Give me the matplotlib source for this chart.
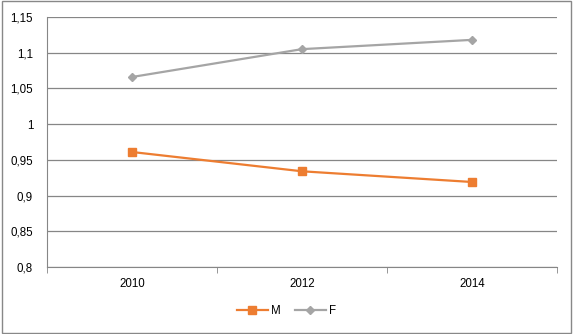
# line chart, M vs F
import numpy as np
import matplotlib.pyplot as plt
from matplotlib.ticker import FuncFormatter

years = ["2010", "2012", "2014"]
m_vals = [0.961, 0.934, 0.919]
f_vals = [1.066, 1.105, 1.118]
yticks = [0.8, 0.85, 0.9, 0.95, 1.0, 1.05, 1.1, 1.15]

plt.rcParams['font.family'] = ['Liberation Sans', 'DejaVu Sans']

fig = plt.figure(figsize=[5.73, 3.34], dpi=100)
ax = fig.add_axes([47/573, 1-267/334, 510/573, 250/334])

x = np.arange(len(years))
ax.plot(x, m_vals, color='#ED7D31', lw=1.6, marker='s', ms=6, label='M')
ax.plot(x, f_vals, color='#A5A5A5', lw=1.6, marker='D', ms=4.5, label='F')

ax.set_xlim(-0.5, 2.5)
ax.set_ylim(0.8, 1.15)
ax.set_yticks(yticks)
ax.yaxis.set_major_formatter(FuncFormatter(lambda v, p: ('%g' % round(v, 2)).replace('.', ',')))
ax.set_xticks(x)
ax.set_xticklabels(years)
ax.set_xticks([-0.5, 0.5, 1.5, 2.5], minor=True)
ax.tick_params(axis='x', which='major', length=0, labelsize=8.3, pad=8)
ax.tick_params(axis='x', which='minor', length=4, color='#868686', direction='out')
ax.tick_params(axis='y', length=0, labelsize=8.3, pad=10)
ax.grid(axis='y', color='#868686', lw=0.9)
ax.set_axisbelow(True)
for s in ['top', 'right']:
    ax.spines[s].set_visible(False)
ax.spines['left'].set_color('#868686')
ax.spines['bottom'].set_color('#868686')

fig.legend(loc='center', bbox_to_anchor=(0.5, 1-311/334), ncol=2, frameon=False,
           fontsize=8.3, handlelength=2.7, columnspacing=1.2, handletextpad=0.3)

# outer border
fig.patches.append(plt.Rectangle((0.003, 0.004), 0.994, 0.992, transform=fig.transFigure,
                                 fill=False, edgecolor='#888888', lw=1))
plt.savefig("out.png", dpi=100)
